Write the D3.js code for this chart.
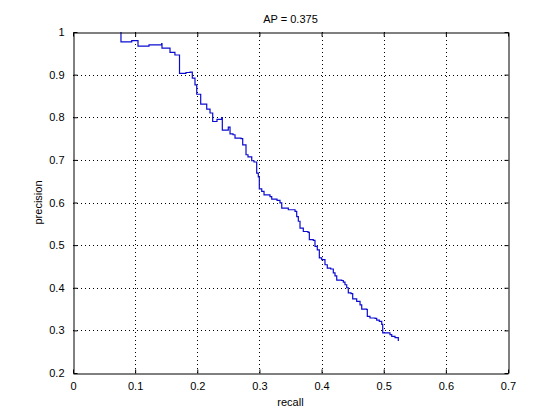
<!DOCTYPE html>
<html>
<head>
<meta charset="utf-8">
<script src="https://cdn.jsdelivr.net/npm/d3@7"></script>
<style>
  html, body { margin: 0; padding: 0; background: #fff; }
  svg { display: block; font-family: "Liberation Sans", Arial, Helvetica, sans-serif; }
</style>
</head>
<body>
<svg id="chart" width="560" height="420"></svg>
<script>
const titleText = "AP = 0.375";
const xLabel = "recall";
const yLabel = "precision";
const xTicks = [0, 0.1, 0.2, 0.3, 0.4, 0.5, 0.6, 0.7];
const yTicks = [0.2, 0.3, 0.4, 0.5, 0.6, 0.7, 0.8, 0.9, 1];
const recall = [0.0772,0.0772,0.0945,0.1046,0.1046,0.1223,0.1427,0.1432,0.1561,0.1561,0.164,0.1714,0.1714,0.1818,0.1883,0.192,0.1963,0.1991,0.2055,0.2055,0.2152,0.2152,0.2205,0.2248,0.2317,0.2393,0.2403,0.2499,0.2527,0.2575,0.2607,0.2704,0.2731,0.2784,0.2816,0.2876,0.2913,0.2956,0.2956,0.2982,0.2998,0.3037,0.3074,0.317,0.3198,0.3283,0.3331,0.3359,0.3439,0.3465,0.3573,0.36,0.3626,0.3653,0.3706,0.3782,0.3803,0.3867,0.3894,0.3931,0.3964,0.4002,0.4055,0.4092,0.4147,0.4189,0.4216,0.4244,0.4324,0.435,0.4377,0.4405,0.443,0.4474,0.4501,0.4565,0.4619,0.4646,0.4726,0.4736,0.4779,0.486,0.4887,0.4929,0.4968,0.4984,0.5101,0.5129,0.5182,0.5235,0.5235];
const precision = [1.0,0.977,0.980,0.981,0.967,0.970,0.973,0.962,0.961,0.952,0.946,0.946,0.903,0.905,0.906,0.892,0.876,0.854,0.854,0.831,0.830,0.819,0.810,0.790,0.795,0.799,0.770,0.777,0.761,0.759,0.751,0.750,0.735,0.712,0.707,0.698,0.695,0.688,0.669,0.660,0.632,0.626,0.618,0.614,0.608,0.605,0.599,0.587,0.587,0.583,0.579,0.567,0.556,0.540,0.532,0.530,0.513,0.511,0.497,0.489,0.470,0.466,0.454,0.446,0.444,0.435,0.428,0.418,0.417,0.413,0.407,0.400,0.388,0.386,0.374,0.368,0.360,0.350,0.349,0.333,0.329,0.328,0.324,0.321,0.314,0.294,0.290,0.286,0.283,0.280,0.275];

const svg = d3.select("#chart");
const L = 73, R = 508, T = 32, B = 373;
const x = d3.scaleLinear().domain([0, 0.7]).range([L, R]);
const y = d3.scaleLinear().domain([0.2, 1]).range([B, T]);

// grid
const g = svg.append("g");
g.selectAll(".vg").data(xTicks.slice(1, -1)).enter().append("line")
  .attr("x1", d => Math.round(x(d)) + 0.5).attr("x2", d => Math.round(x(d)) + 0.5)
  .attr("y1", T).attr("y2", B)
  .attr("stroke", "#000").attr("stroke-width", 1).attr("stroke-dasharray", "1,3");
g.selectAll(".hg").data(yTicks.slice(1, -1)).enter().append("line")
  .attr("y1", d => Math.round(y(d)) + 0.5).attr("y2", d => Math.round(y(d)) + 0.5)
  .attr("x1", L).attr("x2", R)
  .attr("stroke", "#000").attr("stroke-width", 1).attr("stroke-dasharray", "1,3");

// curve
const pts = recall.map((r, i) => [r, precision[i]]);
svg.append("path").datum(pts)
  .attr("fill", "none").attr("stroke", "#0c0cd0").attr("stroke-width", 1.2)
  .attr("d", d3.line().x(d => x(d[0])).y(d => y(d[1])).curve(d3.curveStepAfter));

// axes with inward ticks
const tl = 4;
const xb = svg.append("g").attr("transform", `translate(0,${B + 0.5})`)
  .call(d3.axisBottom(x).tickValues(xTicks).tickSizeInner(-tl).tickSizeOuter(0).tickPadding(9).tickFormat(d3.format("~g")));
const xt = svg.append("g").attr("transform", `translate(0,${T + 0.5})`)
  .call(d3.axisTop(x).tickValues(xTicks).tickSizeInner(-tl).tickSizeOuter(0).tickFormat(""));
const yl = svg.append("g").attr("transform", `translate(${L + 0.5},0)`)
  .call(d3.axisLeft(y).tickValues(yTicks).tickSizeInner(-tl).tickSizeOuter(0).tickPadding(9).tickFormat(d3.format("~g")));
const yr = svg.append("g").attr("transform", `translate(${R + 0.5},0)`)
  .call(d3.axisRight(y).tickValues(yTicks).tickSizeInner(-tl).tickSizeOuter(0).tickFormat(""));
[xb, xt, yl, yr].forEach(a => {
  a.selectAll("path.domain").attr("stroke", "#000");
  a.selectAll(".tick line").attr("stroke", "#000");
  a.selectAll(".tick text").attr("fill", "#000").style("font-size", "11px")
    .style("font-family", "'Liberation Sans', Arial, sans-serif");
});

// labels
svg.append("text").attr("x", (L + R) / 2).attr("y", 23).attr("text-anchor", "middle")
  .style("font-size", "11px").text(titleText);
svg.append("text").attr("x", (L + R) / 2).attr("y", 406).attr("text-anchor", "middle")
  .style("font-size", "11px").text(xLabel);
svg.append("text").attr("transform", `translate(42,${(T + B) / 2}) rotate(-90)`)
  .attr("text-anchor", "middle").style("font-size", "11px").text(yLabel);
</script>
</body>
</html>
